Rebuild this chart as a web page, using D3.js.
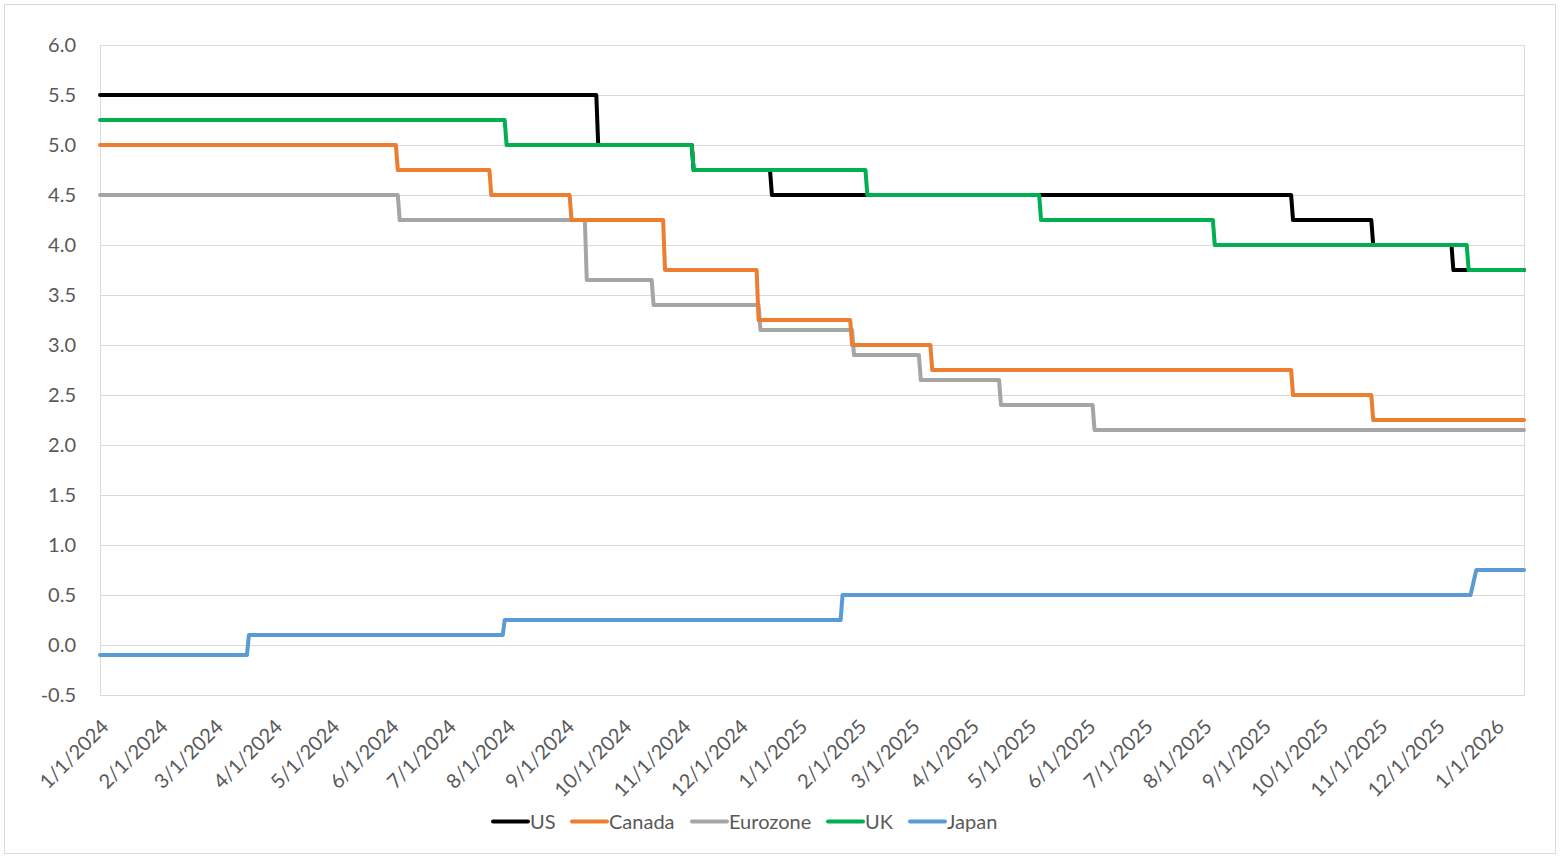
<!DOCTYPE html>
<html>
<head>
<meta charset="utf-8">
<script src="https://cdn.jsdelivr.net/npm/d3@7"></script>
<style>
  html, body { margin: 0; padding: 0; background: #fff; }
  svg { display: block; }
  text { font-family: Lato, "Liberation Sans", sans-serif; fill: #595959; }
</style>
</head>
<body>
<svg id="chart" width="1560" height="858"></svg>
<script>
// ---- Data (policy rate change dates and resulting rates) ----
const seriesNames = ["US", "Canada", "Eurozone", "UK", "Japan"];
const seriesColors = ["#000000", "#ED7D31", "#A5A5A5", "#00B050", "#5B9BD5"];

const usDates = ["2024-01-01", "2024-09-18", "2024-11-07", "2024-12-18", "2025-09-17", "2025-10-29", "2025-12-10"];
const usRates = [5.5, 5.0, 4.75, 4.5, 4.25, 4.0, 3.75];

const canadaDates = ["2024-01-01", "2024-06-05", "2024-07-24", "2024-09-04", "2024-10-23", "2024-12-11", "2025-01-29", "2025-03-12", "2025-09-17", "2025-10-29"];
const canadaRates = [5.0, 4.75, 4.5, 4.25, 3.75, 3.25, 3.0, 2.75, 2.5, 2.25];

const euroDates = ["2024-01-01", "2024-06-06", "2024-09-12", "2024-10-17", "2024-12-12", "2025-01-30", "2025-03-06", "2025-04-17", "2025-06-05"];
const euroRates = [4.5, 4.25, 3.65, 3.4, 3.15, 2.9, 2.65, 2.4, 2.15];

const ukDates = ["2024-01-01", "2024-08-01", "2024-11-07", "2025-02-06", "2025-05-08", "2025-08-07", "2025-12-18"];
const ukRates = [5.25, 5.0, 4.75, 4.5, 4.25, 4.0, 3.75];

const japanDates = ["2024-01-01", "2024-03-19", "2024-07-31", "2025-01-24", "2025-12-22"];
const japanRates = [-0.1, 0.1, 0.25, 0.5, 0.75];

const startDate = "2024-01-01";
const endDate = "2026-01-16";
const yTicks = [-0.5, 0.0, 0.5, 1.0, 1.5, 2.0, 2.5, 3.0, 3.5, 4.0, 4.5, 5.0, 5.5, 6.0];

// ---- Layout ----
const parse = d3.utcParse("%Y-%m-%d");
const svg = d3.select("#chart");
const plotL = 100, plotR = 1524, plotT = 45, plotB = 695;

const x = d3.scaleUtc().domain([parse(startDate), parse(endDate)]).range([plotL, plotR]);
const y = d3.scaleLinear().domain([-0.5, 6.0]).range([plotB, plotT]);

// outer border
svg.append("rect").attr("x", 4.5).attr("y", 4.5).attr("width", 1551).attr("height", 849)
  .attr("fill", "#fff").attr("stroke", "#d9d9d9").attr("stroke-width", 1);

// gridlines
svg.append("g").selectAll("line").data(yTicks).join("line")
  .attr("x1", plotL).attr("x2", plotR)
  .attr("y1", d => Math.round(y(d)) + 0.5).attr("y2", d => Math.round(y(d)) + 0.5)
  .attr("stroke", "#d9d9d9").attr("stroke-width", 1);

// plot border
svg.append("rect").attr("x", plotL + 0.5).attr("y", plotT + 0.5)
  .attr("width", plotR - plotL).attr("height", plotB - plotT)
  .attr("fill", "none").attr("stroke", "#d9d9d9").attr("stroke-width", 1);

// y labels
svg.append("g").selectAll("text").data(yTicks).join("text")
  .attr("x", 76).attr("y", d => y(d)).attr("dy", "0.35em")
  .attr("text-anchor", "end").style("font-size", "20px")
  .text(d => d.toFixed(1));

// x labels
const months = d3.utcMonth.range(parse("2024-01-01"), d3.utcDay.offset(parse("2026-01-01"), 1));
const fmt = d3.utcFormat("%-m/%-d/%Y");
svg.append("g").selectAll("text").data(months).join("text")
  .attr("transform", d => `translate(${x(d) + 10},${plotB + 33}) rotate(-45)`)
  .attr("text-anchor", "end").style("font-size", "20px")
  .text(d => fmt(d));

// build step paths
function prevBusinessDay(d) {
  let p = d3.utcDay.offset(d, -1);
  while (p.getUTCDay() === 0 || p.getUTCDay() === 6) p = d3.utcDay.offset(p, -1);
  return p;
}
function stepPoints(dates, rates) {
  const pts = [[parse(dates[0]), rates[0]]];
  for (let i = 1; i < dates.length; i++) {
    const d = parse(dates[i]);
    pts.push([prevBusinessDay(d), rates[i - 1]]);
    pts.push([d, rates[i]]);
  }
  pts.push([parse(endDate), rates[rates.length - 1]]);
  return pts;
}
const allSeries = [
  stepPoints(usDates, usRates),
  stepPoints(canadaDates, canadaRates),
  stepPoints(euroDates, euroRates),
  stepPoints(ukDates, ukRates),
  stepPoints(japanDates, japanRates)
];
const line = d3.line().x(d => x(d[0])).y(d => y(d[1]));
// draw order: Japan, Eurozone, Canada, US, UK (UK on top of US as in reference)
const order = [4, 2, 1, 0, 3];
svg.append("g").selectAll("path").data(order).join("path")
  .attr("d", i => line(allSeries[i]))
  .attr("fill", "none").attr("stroke", i => seriesColors[i])
  .attr("stroke-width", 4).attr("stroke-linejoin", "round").attr("stroke-linecap", "round");

// legend
const lg = svg.append("g");
const startX = [493, 572, 692, 828, 910];
seriesNames.forEach((name, i) => {
  lg.append("line").attr("x1", startX[i]).attr("x2", startX[i] + 35)
    .attr("y1", 821.5).attr("y2", 821.5)
    .attr("stroke", seriesColors[i]).attr("stroke-width", 4).attr("stroke-linecap", "round");
  lg.append("text").attr("x", startX[i] + 37).attr("y", 828.5)
    .style("font-size", "20px").text(name);
});
</script>
</body>
</html>
